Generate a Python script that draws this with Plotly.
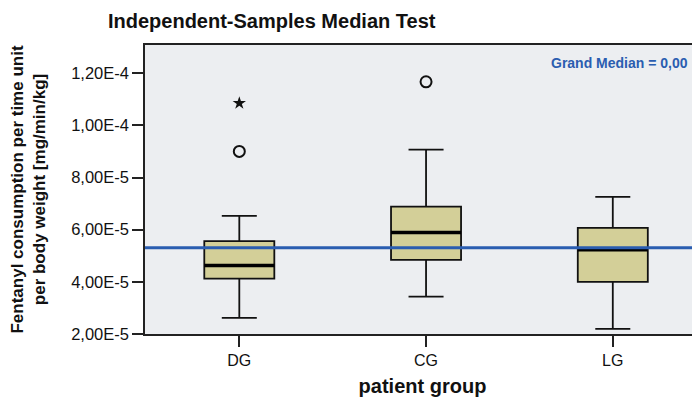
import plotly.graph_objects as go

groups = ["DG", "CG", "LG"]
q1 = [4.12e-5, 4.84e-5, 4.00e-5]
median = [4.63e-5, 5.89e-5, 5.23e-5]
q3 = [5.56e-5, 6.88e-5, 6.07e-5]
lower_whisker = [2.62e-5, 3.43e-5, 2.20e-5]
upper_whisker = [6.53e-5, 9.07e-5, 7.26e-5]
outlier_groups = ["DG", "CG"]
outlier_values = [9.00e-5, 1.167e-4]
extreme_groups = ["DG"]
extreme_values = [1.085e-4]
grand_median = 5.31e-5
y_tickvals = [2e-5, 4e-5, 6e-5, 8e-5, 1e-4, 1.2e-4]
y_ticktext = ["2,00E-5", "4,00E-5", "6,00E-5", "8,00E-5", "1,00E-4", "1,20E-4"]

pos = {g: i for i, g in enumerate(groups)}
box_w = 0.375

fig = go.Figure()
fig.add_trace(go.Box(
    x=list(range(len(groups))), q1=q1, median=median, q3=q3,
    lowerfence=lower_whisker, upperfence=upper_whisker,
    width=box_w, whiskerwidth=0.5,
    fillcolor="#d3cf98", line=dict(color="#111111", width=1.8),
    boxpoints=False, showlegend=False, hoverinfo="skip",
))
# thick median lines
mx, my = [], []
for i, m in enumerate(median):
    mx += [i - box_w / 2, i + box_w / 2, None]
    my += [m, m, None]
fig.add_trace(go.Scatter(x=mx, y=my, mode="lines",
                         line=dict(color="#000000", width=3.5),
                         showlegend=False, hoverinfo="skip"))
fig.add_trace(go.Scatter(x=[pos[g] for g in outlier_groups], y=outlier_values,
                         mode="markers",
                         marker=dict(symbol="circle-open", size=11,
                                     color="#111111", line=dict(width=2)),
                         showlegend=False))
fig.add_trace(go.Scatter(x=[pos[g] for g in extreme_groups], y=extreme_values,
                         mode="markers",
                         marker=dict(symbol="star", size=10, color="#111111"),
                         showlegend=False))

fig.add_shape(type="line", xref="paper", x0=0, x1=1, yref="y",
              y0=grand_median, y1=grand_median,
              line=dict(color="#2a5db0", width=3))

fig.add_annotation(text="<b>Grand Median = 0,00</b>", xref="paper", yref="paper",
                   x=0.982, y=0.938, xanchor="right", yanchor="middle",
                   showarrow=False,
                   font=dict(family="Liberation Sans, Arial", size=14, color="#2a5db0"))

fig.update_layout(
    width=692, height=395,
    margin=dict(l=137, r=0, t=37, b=69),
    paper_bgcolor="white", plot_bgcolor="#eceef1",
    title=dict(text="<b>Independent-Samples Median Test</b>",
               x=0.1445, xanchor="left", y=0.967, yanchor="middle",
               font=dict(family="Liberation Sans, Arial", size=20, color="#111111")),
    font=dict(family="Liberation Sans, Arial", color="#111111"),
)
fig.update_xaxes(
    range=[-0.505, 2.467], tickmode="array",
    tickvals=list(range(len(groups))), ticktext=groups,
    showgrid=False, zeroline=False,
    showline=True, linecolor="#222222", linewidth=1.5, mirror=True,
    ticks="outside", ticklen=11, tickwidth=1.5, tickcolor="#222222",
    tickfont=dict(size=16),
    title=dict(text="<b>patient group</b>", font=dict(size=20), standoff=11),
)
fig.update_yaxes(
    range=[2e-5, 1.308e-4], tickmode="array",
    tickvals=y_tickvals, ticktext=y_ticktext,
    showgrid=False, zeroline=False,
    showline=True, linecolor="#222222", linewidth=1.5, mirror=False,
    ticks="outside", ticklen=11, tickwidth=1.5, tickcolor="#222222",
    tickfont=dict(size=16.5),
    title=dict(text="<b>Fentanyl consumption per time unit<br>per body weight [mg/min/kg]</b>",
               font=dict(size=17), standoff=22),
)

fig.write_html("out.html")
